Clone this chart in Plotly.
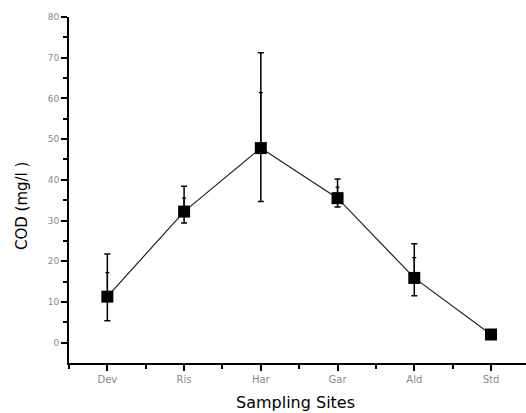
import plotly.graph_objects as go

sites = ["Dev", "Ris", "Har", "Gar", "Ald", "Std"]
cod_mean = [11.3, 32.2, 47.8, 35.5, 15.9, 2.0]
cod_high = [21.8, 38.4, 71.2, 40.2, 24.3, 2.0]
cod_low = [5.4, 29.4, 34.7, 33.3, 11.5, 2.0]
cod_inner = [17.2, 35.5, 61.4, 38.2, 20.9, 2.0]

xs = list(range(len(sites)))
plus = [h - m for h, m in zip(cod_high, cod_mean)]
minus = [m - l for m, l in zip(cod_mean, cod_low)]
inner_plus = [i - m for i, m in zip(cod_inner, cod_mean)]

fig = go.Figure()

# inner tick marks on error bars
fig.add_trace(go.Scatter(
    x=xs, y=cod_mean, mode="markers",
    marker=dict(size=1, color="rgba(0,0,0,0)"),
    error_y=dict(type="data", symmetric=False, array=inner_plus,
                 arrayminus=[0] * len(xs), color="black", thickness=1.3, width=2),
    showlegend=False, hoverinfo="skip"))

fig.add_trace(go.Scatter(
    x=xs, y=cod_mean, mode="lines+markers",
    line=dict(color="#222222", width=1.2),
    marker=dict(symbol="square", size=12, color="black"),
    error_y=dict(type="data", symmetric=False, array=plus, arrayminus=minus,
                 color="black", thickness=1.5, width=3),
    showlegend=False))

fig.update_layout(
    width=526, height=413,
    margin=dict(l=69, r=0, t=17, b=50),
    plot_bgcolor="white", paper_bgcolor="white",
    font=dict(family="DejaVu Sans", color="black"),
    xaxis=dict(
        range=[-0.5, 5.456], tickmode="array", tickvals=xs, ticktext=sites,
        showline=True, linecolor="black", linewidth=2, mirror=False,
        showgrid=False, zeroline=False,
        ticks="outside", ticklen=6, tickwidth=1.5, tickcolor="black",
        tickfont=dict(size=10, color="#8a8a8a"),
        minor=dict(tickvals=[x + 0.5 for x in xs[:-1]] + [-0.5 + 0.0001],
                   ticks="outside", ticklen=4, tickwidth=1.5, tickcolor="black"),
    ),
    yaxis=dict(
        range=[-5, 80], tickmode="array", tickvals=list(range(0, 81, 10)),
        showline=True, linecolor="black", linewidth=2,
        showgrid=False, zeroline=False,
        ticks="outside", ticklen=6, tickwidth=1.5, tickcolor="black",
        tickfont=dict(size=9, color="#8a8a8a"),
        minor=dict(tickvals=list(range(5, 80, 10)), ticks="outside",
                   ticklen=4, tickwidth=1.5, tickcolor="black"),
    ),
    annotations=[
        dict(text="Sampling Sites", xref="paper", yref="paper", x=0.495, y=-0.082,
             yanchor="top", xanchor="center", showarrow=False,
             font=dict(size=16, color="black", family="DejaVu Sans")),
        dict(text="COD (mg/l )", xref="paper", yref="paper", x=-0.104, y=0.455,
             xanchor="center", yanchor="middle", showarrow=False, textangle=-90,
             font=dict(size=15, color="black", family="DejaVu Sans")),
    ],
)

fig.write_html("out.html")
